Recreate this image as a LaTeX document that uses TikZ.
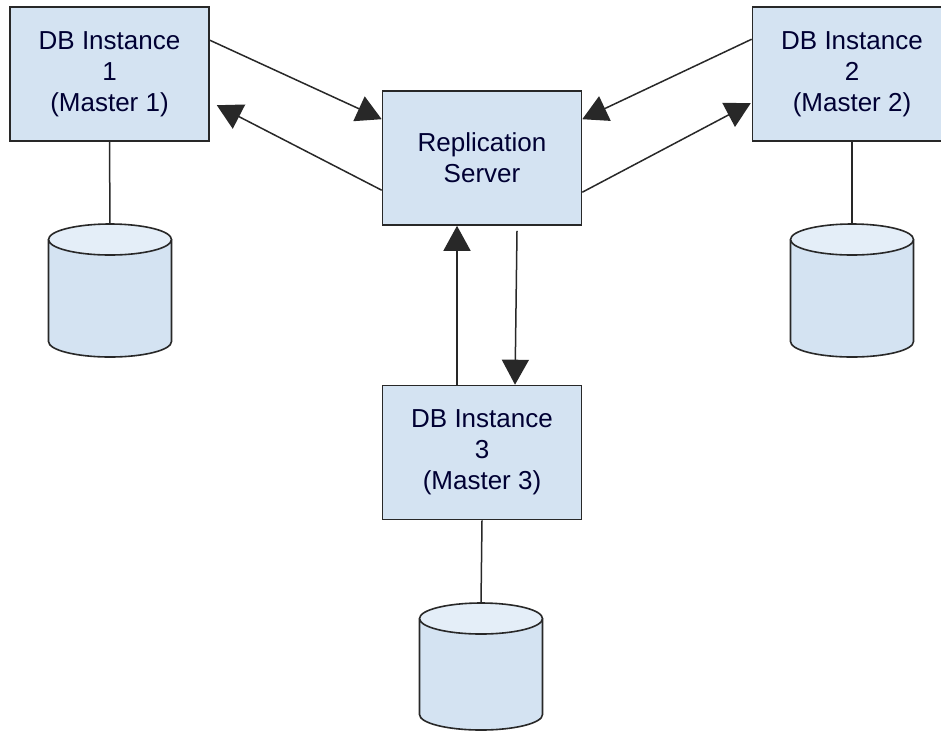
\documentclass[tikz,border=0pt]{standalone}
\usepackage{fontspec}
\setmainfont{Liberation Sans}
\usetikzlibrary{arrows.meta,calc}
\definecolor{boxfill}{RGB}{212,227,242}
\definecolor{topfill}{RGB}{228,238,248}
\definecolor{linecol}{RGB}{40,40,40}
\newcommand{\dbcyl}[4]{% name, cx, top, bottom
  \fill[boxfill] (#2-61.5,#3+15.5) -- (#2-61.5,#4-15.5)
    arc[start angle=180,end angle=360,x radius=61.5pt,y radius=15.5pt]
    -- (#2+61.5,#3+15.5)
    arc[start angle=0,end angle=180,x radius=61.5pt,y radius=15.5pt] -- cycle;
  \draw[cylline] (#2-61.5,#3+15.5) -- (#2-61.5,#4-15.5)
    arc[start angle=180,end angle=360,x radius=61.5pt,y radius=15.5pt]
    -- (#2+61.5,#3+15.5);
  \draw[cylline,fill=topfill] (#2,#3+15.5) ellipse[x radius=61.5pt,y radius=15.5pt];
  \coordinate (#1) at (#2,#3);
}
\begin{document}
\begin{tikzpicture}[x=1pt,y=-1pt,
  box/.style={draw=linecol,line width=1.6pt,fill=boxfill,minimum width=199pt,minimum height=134pt,
    align=center,inner sep=0pt,font=\fontsize{26}{31}\selectfont,text=black!80!blue},
  cylline/.style={draw=linecol,line width=1.6pt},
  conn/.style={draw=linecol,line width=1.5pt},
  arr/.style={conn,-{Triangle[length=25pt,width=27pt]}}]
\useasboundingbox[fill=white] (0,0) rectangle (941,732);
\node[box] (b1) at (109.5,74) {DB Instance\\1\\(Master 1)};
\node[box] (rep) at (482,158) {Replication\\Server};
\node[box] (b2) at (852,74) {DB Instance\\2\\(Master 2)};
\node[box] (b3) at (482,452.5) {DB Instance\\3\\(Master 3)};
\dbcyl{c1}{110}{224}{357}
\dbcyl{c2}{852}{224}{357}
\dbcyl{c3}{481}{603}{730}
\draw[conn] (b1.south) -- (c1);
\draw[conn] (b2.south) -- (c2);
\draw[conn] (b3.south) -- (c3);
\draw[arr] ($(b1.north east)+(0,34)$) -- ($(rep.north west)+(0,29)$);
\draw[arr] ($(rep.north west)+(0,100)$) -- ($(b1.north east)+(7,99)$);
\draw[arr] ($(b2.north west)+(0,33)$) -- ($(rep.north east)+(0,29)$);
\draw[arr] ($(rep.north east)+(0,102)$) -- ($(b2.north west)+(-1,97)$);
\draw[arr] (b3.north -| 457,0) -- (rep.south -| 457,0);
\draw[arr] ($(rep.south)+(35,5)$) -- ($(b3.north)+(33,0)$);
\end{tikzpicture}
\end{document}
